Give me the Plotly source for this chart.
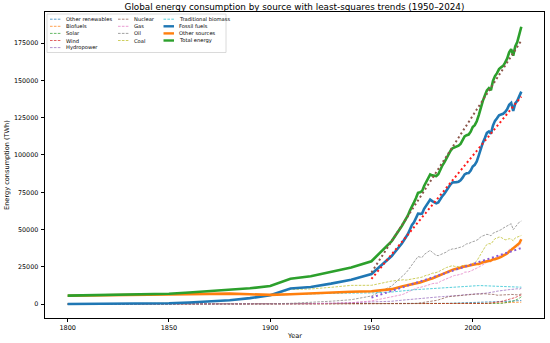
import numpy as np
import plotly.graph_objects as go

# ---------------- data (TWh) ----------------
years = ([1800, 1810, 1820, 1830, 1840, 1850, 1860, 1870, 1880, 1890,
          1900, 1910, 1920, 1930, 1940, 1950, 1960] + list(range(1965, 2025)))

other_renewables = [0] * 17 + [
    90, 95, 100, 105, 110, 120, 125, 135, 145, 155,
    165, 175, 190, 200, 215, 240, 270, 300, 340, 380,
    420, 450, 480, 510, 540, 570, 590, 610, 640, 660,
    690, 720, 750, 780, 810, 840, 860, 900, 940, 990,
    1040, 1090, 1150, 1210, 1270, 1350, 1410, 1490, 1570, 1650,
    1730, 1800, 1870, 1950, 2030, 2110, 2200, 2250, 2300, 2380]

biofuels = [0] * 17 + [
    0, 0, 0, 0, 0, 0, 0, 0, 0, 0,
    10, 20, 30, 40, 60, 80, 90, 110, 130, 140,
    150, 150, 150, 150, 150, 150, 150, 150, 150, 150,
    160, 160, 170, 160, 160, 150, 170, 190, 220, 250,
    290, 360, 440, 550, 620, 690, 700, 710, 770, 830,
    850, 880, 920, 990, 1060, 980, 1040, 1120, 1230, 1300]

solar = [0] * 17 + [0] * 35 + [
    3, 4, 5, 6, 8, 10, 14, 20, 30, 50,
    85, 160, 250, 350, 480, 630, 800, 1100, 1400, 1730,
    2060, 2500, 3170, 3960, 4900]

wind = [0] * 17 + [0] * 25 + [
    10, 10, 12, 15, 18, 20, 25, 32, 40, 55,
    80, 100, 130, 170, 210, 260, 330, 430, 550, 690,
    870, 1090, 1300, 1560, 1760, 2070, 2390, 2770, 3080, 3420,
    3840, 4400, 5010, 5530, 6160]

hydropower = [0, 0, 0, 0, 0, 0, 0, 0, 0, 5, 50, 150, 300, 550, 850, 1100, 1900] + [
    2600, 2750, 2800, 2900, 3050, 3150, 3300, 3400, 3450, 3750,
    3850, 3900, 4000, 4250, 4450, 4500, 4600, 4700, 4850, 5000,
    5050, 5100, 5150, 5300, 5300, 5450, 5600, 5600, 5850, 5900,
    6150, 6250, 6350, 6400, 6450, 6600, 6450, 6550, 6550, 6900,
    7150, 7350, 7400, 7700, 7750, 8150, 8300, 8650, 8900, 9050,
    9000, 9300, 9400, 9700, 9800, 10200, 10100, 10300, 10000, 10600]

nuclear = [0] * 16 + [10] + [
    70, 90, 110, 140, 170, 230, 320, 450, 580, 750,
    1000, 1150, 1400, 1650, 1700, 1900, 2250, 2450, 2800, 3350,
    3900, 4200, 4550, 4950, 5100, 5250, 5500, 5550, 5700, 5800,
    5950, 6150, 6100, 6200, 6400, 6500, 6650, 6750, 6650, 6900,
    6900, 6950, 6750, 6700, 6600, 6750, 6400, 5950, 5950, 6050,
    6100, 6200, 6250, 6350, 6500, 6300, 6500, 6200, 6400, 6800]

gas = [0, 0, 0, 0, 0, 0, 0, 0, 0, 33, 64, 156, 233, 575, 875, 2092, 4659] + [
    6300, 6800, 7300, 8000, 8700, 9400, 10000, 10500, 11000, 11200,
    11300, 11900, 12300, 12800, 13600, 13700, 13900, 13900, 14100, 15200,
    15800, 16100, 16900, 17600, 18300, 18800, 19200, 19300, 19600, 19700,
    20400, 21400, 21300, 21600, 22200, 23000, 23400, 24100, 24800, 25700,
    26400, 27100, 28000, 28700, 28200, 30300, 31000, 31800, 32200, 32500,
    33100, 33900, 34700, 36600, 37400, 37300, 38600, 38200, 39200, 40800]

oil = [0, 0, 0, 0, 0, 0, 0, 6, 33, 89, 181, 508, 1097, 1916, 2931, 5444, 12158] + [
    18200, 19600, 20900, 22600, 24400, 26500, 27800, 29700, 31900, 31500,
    31300, 33200, 34300, 35500, 36100, 34700, 33600, 32700, 32500, 33100,
    33200, 34100, 34900, 36000, 36600, 37000, 37000, 37400, 37300, 38000,
    38600, 39500, 40400, 40600, 41400, 41900, 42200, 42700, 43600, 45200,
    45800, 46200, 46800, 46500, 45800, 47500, 48000, 48600, 49400, 49900,
    50900, 51800, 52600, 53200, 53900, 49900, 51600, 53100, 55000, 55700]

coal = [97, 128, 153, 264, 356, 569, 1061, 1642, 2542, 3856,
        5728, 9833, 10150, 11253, 12550, 12603, 15442] + [
    16140, 16410, 16050, 16400, 16900, 17200, 17100, 17300, 17800, 17800,
    18100, 18800, 19300, 19500, 20400, 20700, 20800, 21000, 21600, 22400,
    23400, 23800, 24500, 25000, 25300, 25800, 25300, 25100, 25200, 25300,
    25800, 26100, 26000, 25700, 25900, 27400, 27800, 28900, 31400, 33900,
    36100, 38100, 40000, 40600, 40300, 41900, 43900, 44200, 45000, 44700,
    43600, 43100, 43300, 43900, 43600, 42400, 44400, 45000, 45600, 46000]

traditional_biomass = [5556, 5700, 5850, 6000, 6200, 6400, 6700, 7000, 7000, 6600,
                       6100, 6400, 6900, 7200, 7400, 7500, 8100] + [
    9000, 9100, 9200, 9300, 9400, 9500, 9600, 9700, 9800, 9900,
    10000, 10100, 10200, 10300, 10400, 10500, 10600, 10700, 10800, 10900,
    11000, 11100, 11200, 11300, 11400, 11500, 11600, 11700, 11800, 11900,
    12000, 12100, 12150, 12200, 12250, 12300, 12350, 12400, 12400, 12400,
    12400, 12350, 12300, 12250, 12200, 12100, 12000, 11950, 11900, 11850,
    11800, 11750, 11700, 11650, 11600, 11550, 11500, 11450, 11400, 11350]

trend_start = 1950

source_names = ["Other renewables", "Biofuels", "Solar", "Wind", "Hydropower",
                "Nuclear", "Gas", "Oil", "Coal", "Traditional biomass"]
source_values = [other_renewables, biofuels, solar, wind, hydropower,
                 nuclear, gas, oil, coal, traditional_biomass]
for s in source_values:
    assert len(s) == len(years), len(s)

# ---------------- derived series ----------------
yr = np.array(years, dtype=float)
fossil = np.array(coal) + np.array(oil) + np.array(gas)
other_sources = (np.array(traditional_biomass) + np.array(hydropower) + np.array(nuclear)
                 + np.array(wind) + np.array(solar) + np.array(biofuels)
                 + np.array(other_renewables))
total = fossil + other_sources

mask = yr >= trend_start


def trend(series):
    c = np.polyfit(yr[mask], series[mask], 1)
    return np.polyval(c, yr[mask])


# ---------------- styling ----------------
tab10 = ["#1f77b4", "#ff7f0e", "#2ca02c", "#d62728", "#9467bd",
         "#8c564b", "#e377c2", "#7f7f7f", "#bcbd22", "#17becf"]
FONT = "DejaVu Sans"
DASH = "2.6px,1.3px"
DOT = "2px,2.7px"
THIN_OP = 0.72

fig = go.Figure()

for i, (name, vals) in enumerate(zip(source_names, source_values)):
    fig.add_trace(go.Scatter(x=years, y=vals, name=name, mode="lines",
                             opacity=THIN_OP,
                             line=dict(color=tab10[i], width=1, dash=DASH),
                             showlegend=False))

main_names = ["Fossil fuels", "Other sources", "Total energy"]
main_vals = [fossil, other_sources, total]
main_cols = [tab10[0], tab10[1], tab10[2]]
for name, vals, col in zip(main_names, main_vals, main_cols):
    fig.add_trace(go.Scatter(x=years, y=vals, name=name, mode="lines",
                             line=dict(color=col, width=2.6), showlegend=False))

trend_cols = {"Total energy": "#8c564b", "Fossil fuels": "#ff1a1a", "Other sources": "#8a5ad4"}
for name, vals in [("Total energy", total), ("Fossil fuels", fossil), ("Other sources", other_sources)]:
    fig.add_trace(go.Scatter(x=yr[mask], y=trend(vals), name=name + " trend", mode="lines",
                             line=dict(color=trend_cols[name], width=2, dash=DOT),
                             showlegend=False))

# ---------------- geometry ----------------
W, H = 550, 343
ML, MR, MT, MB = 45, 6, 12, 25
PW, PH = W - ML - MR, H - MT - MB


def px_x(p):
    return (p - ML) / PW


def px_y(p):
    return 1 - (p - MT) / PH


shapes = []
annotations = []
# legend frame
shapes.append(dict(type="rect", xref="paper", yref="paper",
                   x0=px_x(47), x1=px_x(226), y0=px_y(52.5), y1=px_y(14),
                   line=dict(color="#d0d0d0", width=0.8), fillcolor="rgba(255,255,255,0.85)",
                   layer="above"))

legend_cols = [
    (["Other renewables", "Biofuels", "Solar", "Wind", "Hydropower"], 50, 64),
    (["Nuclear", "Gas", "Oil", "Coal"], 118, 132),
    (["Traditional biomass", "Fossil fuels", "Other sources", "Total energy"], 163.5, 177),
]
row_y = [19.2, 26.3, 33.4, 40.5, 47.6]
style = {}
for i, n in enumerate(source_names):
    style[n] = dict(color=tab10[i], width=1, dash=DASH, op=THIN_OP)
for n, c in zip(main_names, main_cols):
    style[n] = dict(color=c, width=2.4, dash="solid", op=1)

for names, sx, tx in legend_cols:
    for r, n in enumerate(names):
        st = style[n]
        shapes.append(dict(type="line", xref="paper", yref="paper",
                           x0=px_x(sx), x1=px_x(sx + 10.5), y0=px_y(row_y[r]), y1=px_y(row_y[r]),
                           line=dict(color=st["color"], width=st["width"], dash=st["dash"]),
                           opacity=st["op"], layer="above"))
        annotations.append(dict(xref="paper", yref="paper", x=px_x(tx), y=px_y(row_y[r]),
                                text=n, showarrow=False, xanchor="left", yanchor="middle",
                                font=dict(family=FONT, size=5.2, color="#000000")))

# axis titles
annotations.append(dict(xref="paper", yref="paper", x=0.5, y=px_y(335.5),
                        text="Year", showarrow=False, xanchor="center", yanchor="middle",
                        font=dict(family=FONT, size=6.6, color="black")))
annotations.append(dict(xref="paper", yref="paper", x=px_x(7), y=px_y(165),
                        text="Energy consumption (TWh)", showarrow=False, textangle=-90,
                        xanchor="center", yanchor="middle",
                        font=dict(family=FONT, size=6.6, color="black")))

fig.update_layout(
    width=W, height=H,
    margin=dict(l=ML, r=MR, t=MT, b=MB, pad=0),
    paper_bgcolor="white", plot_bgcolor="white",
    font=dict(family=FONT, size=6.5, color="black"),
    title=dict(text="Global energy consumption by source with least-squares trends (1950–2024)",
               x=0.5, xanchor="center", xref="paper", y=1 - 6.5 / H, yref="container",
               yanchor="middle", font=dict(family=FONT, size=8.8, color="black")),
    showlegend=False,
    shapes=shapes,
    annotations=annotations,
)

fig.update_xaxes(range=[1788.8, 2035.2], tickmode="array",
                 tickvals=[1800, 1850, 1900, 1950, 2000],
                 ticks="outside", ticklen=3.5, tickwidth=0.8, tickcolor="black",
                 showline=True, linecolor="black", linewidth=0.8, mirror=True,
                 showgrid=False, zeroline=False, automargin=False,
                 tickfont=dict(family=FONT, size=6.5))
fig.update_yaxes(range=[-9330, 195900], tickmode="array",
                 tickvals=[0, 25000, 50000, 75000, 100000, 125000, 150000, 175000],
                 tickformat="d",
                 ticks="outside", ticklen=3.5, tickwidth=0.8, tickcolor="black",
                 showline=True, linecolor="black", linewidth=0.8, mirror=True,
                 showgrid=False, zeroline=False, automargin=False,
                 ticklabelstandoff=1,
                 tickfont=dict(family=FONT, size=6.4))

fig.write_html("out.html", config={"displayModeBar": False},
               post_script="document.body.style.margin='0px';")
